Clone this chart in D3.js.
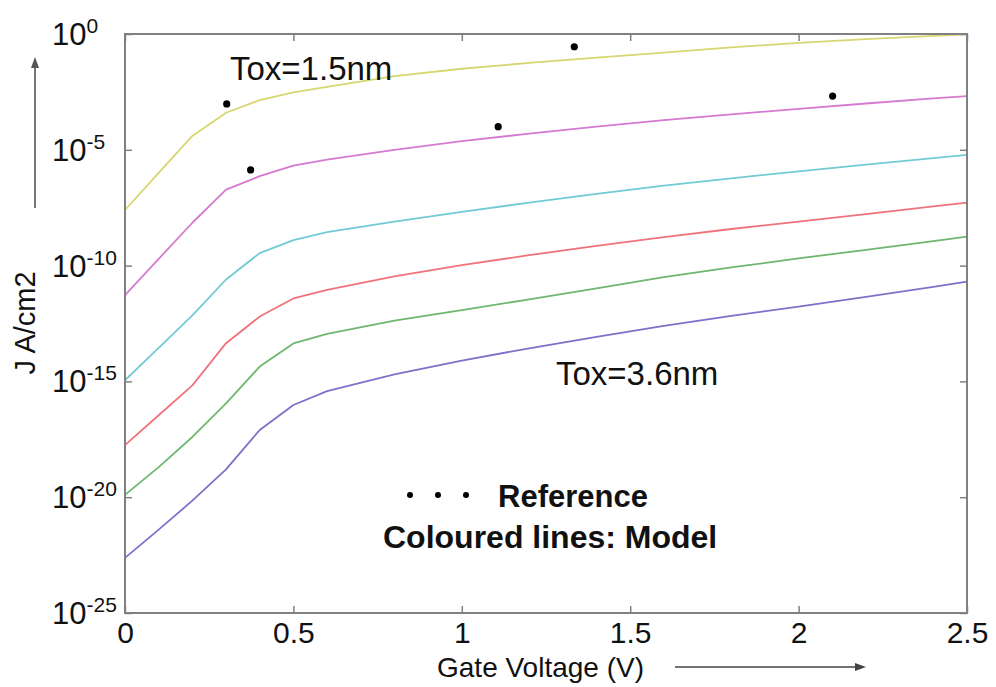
<!DOCTYPE html>
<html>
<head>
<meta charset="utf-8">
<script src="https://cdn.jsdelivr.net/npm/d3@7"></script>
<style>
  body { margin: 0; background: #fff; }
  text { font-family: Arial, "Liberation Sans", sans-serif; fill: #111; }
</style>
</head>
<body>
<script>
// Gate voltage samples (V)
const gateVoltage = [0, 0.1, 0.2, 0.3, 0.4, 0.5, 0.6, 0.8, 1.0, 1.2, 1.4, 1.6, 1.8, 2.0, 2.2, 2.4, 2.5];

// Model curves, log10 of J (A/cm2), thinnest oxide first
const logJYellow  = [-7.6, -6.0, -4.4, -3.4, -2.85, -2.52, -2.28, -1.82, -1.5, -1.25, -1.02, -0.8, -0.58, -0.38, -0.22, -0.08, -0.02];
const logJMagenta = [-11.27, -9.71, -8.15, -6.72, -6.14, -5.68, -5.42, -5.0, -4.63, -4.3, -4.0, -3.72, -3.47, -3.23, -3.0, -2.78, -2.68];
const logJCyan    = [-14.95, -13.55, -12.15, -10.6, -9.46, -8.9, -8.55, -8.1, -7.68, -7.28, -6.9, -6.55, -6.23, -5.93, -5.64, -5.36, -5.22];
const logJRed     = [-17.75, -16.46, -15.17, -13.35, -12.2, -11.42, -11.05, -10.47, -9.98, -9.55, -9.15, -8.77, -8.42, -8.1, -7.78, -7.44, -7.28];
const logJGreen   = [-19.9, -18.7, -17.4, -15.95, -14.36, -13.36, -12.95, -12.38, -11.92, -11.46, -10.98, -10.5, -10.08, -9.69, -9.32, -8.94, -8.75];
const logJBlue    = [-22.62, -21.4, -20.15, -18.8, -17.1, -16.02, -15.42, -14.7, -14.1, -13.57, -13.08, -12.6, -12.17, -11.77, -11.35, -10.92, -10.69];

const seriesColors = ["#d8d670", "#d57ad0", "#72cbd4", "#f0737c", "#6fb66f", "#7b72c9"];

// Reference points
const refVoltage = [0.302, 0.373, 1.108, 1.334, 2.101];
const refLogJ    = [-3.02, -5.87, -4.0, -0.55, -2.68];

// Axis ticks
const xTicks = [0, 0.5, 1, 1.5, 2, 2.5];
const yTickExps = [0, -5, -10, -15, -20, -25];

const width = 996, height = 687;
const plotLeft = 125, plotRight = 967, plotTop = 34, plotBottom = 613;
const axisColor = "#808080";

const svg = d3.select("body").append("svg")
    .attr("width", width)
    .attr("height", height);

let xScale = d3.scaleLinear().domain([0, 2.5]).range([plotLeft, plotRight]);
let yScale = d3.scaleLog().domain([1e-25, 1]).range([plotBottom, plotTop]);

const allSeries = [logJYellow, logJMagenta, logJCyan, logJRed, logJGreen, logJBlue];

let line = d3.line()
    .x((d, i) => xScale(gateVoltage[i]))
    .y(d => yScale(Math.pow(10, d)));

allSeries.forEach((s, k) => {
    svg.append("path")
        .datum(s)
        .attr("fill", "none")
        .attr("stroke", seriesColors[k])
        .attr("stroke-width", 1.8)
        .attr("stroke-linejoin", "round")
        .attr("d", line);
});

// frame
svg.append("rect")
    .attr("x", plotLeft).attr("y", plotTop)
    .attr("width", plotRight - plotLeft).attr("height", plotBottom - plotTop)
    .attr("fill", "none")
    .attr("stroke", axisColor)
    .attr("stroke-width", 2);

// inward ticks on all four sides
const tickLen = 7;
function styleAxis(g) {
    g.select(".domain").remove();
    g.selectAll(".tick line").attr("stroke", axisColor).attr("stroke-width", 1.5);
}
svg.append("g").attr("transform", `translate(0,${plotBottom})`)
    .call(d3.axisBottom(xScale).tickValues(xTicks).tickSizeInner(-tickLen).tickSizeOuter(0).tickPadding(9).tickFormat(d3.format("")))
    .call(styleAxis)
    .call(g => g.selectAll(".tick text")
        .attr("font-size", 30).attr("fill", "#111")
        .attr("font-family", "Arial, 'Liberation Sans', sans-serif"));
svg.append("g").attr("transform", `translate(0,${plotTop})`)
    .call(d3.axisTop(xScale).tickValues(xTicks).tickSizeInner(-tickLen).tickSizeOuter(0).tickFormat(""))
    .call(styleAxis);
svg.append("g").attr("transform", `translate(${plotLeft},0)`)
    .call(d3.axisLeft(yScale).tickValues(yTickExps.map(e => Math.pow(10, e))).tickSizeInner(-tickLen).tickSizeOuter(0).tickFormat(""))
    .call(styleAxis);
svg.append("g").attr("transform", `translate(${plotRight},0)`)
    .call(d3.axisRight(yScale).tickValues(yTickExps.map(e => Math.pow(10, e))).tickSizeInner(-tickLen).tickSizeOuter(0).tickFormat(""))
    .call(styleAxis);

// y tick labels as 10^n
yTickExps.forEach(e => {
    let y = yScale(Math.pow(10, e));
    let t = svg.append("text")
        .attr("x", 52)
        .attr("y", y + 11)
        .attr("font-size", 31);
    t.append("tspan").text("10");
    t.append("tspan")
        .attr("font-size", 21)
        .attr("dy", -12)
        .text(e === 0 ? "0" : "-" + Math.abs(e));
});

// reference dots
svg.selectAll(".ref")
    .data(refVoltage)
    .enter().append("circle")
    .attr("class", "ref")
    .attr("cx", d => xScale(d))
    .attr("cy", (d, i) => yScale(Math.pow(10, refLogJ[i])))
    .attr("r", 3.6)
    .attr("fill", "#000");

// annotations
svg.append("text").attr("x", 230).attr("y", 80).attr("font-size", 33).text("Tox=1.5nm");
svg.append("text").attr("x", 556).attr("y", 385).attr("font-size", 33).text("Tox=3.6nm");

// legend
[410, 438, 466].forEach(x => {
    svg.append("circle").attr("cx", x).attr("cy", 495).attr("r", 3).attr("fill", "#000");
});
svg.append("text").attr("x", 498).attr("y", 507).attr("font-size", 31).attr("font-weight", "bold").text("Reference");
svg.append("text").attr("x", 383).attr("y", 548).attr("font-size", 32).attr("font-weight", "bold").text("Coloured lines: Model");

// axis titles and arrows
svg.append("text").attr("x", 437).attr("y", 677).attr("font-size", 28).attr("fill", "#333").text("Gate Voltage (V)");
svg.append("text")
    .attr("transform", "translate(35,323) rotate(-90)")
    .attr("text-anchor", "middle")
    .attr("font-size", 29)
    .attr("fill", "#333")
    .text("J A/cm2");

svg.append("line").attr("x1", 675).attr("y1", 667).attr("x2", 856).attr("y2", 667)
    .attr("stroke", "#444").attr("stroke-width", 1.5);
svg.append("path").attr("d", "M866,667 L855,663 L855,671 Z").attr("fill", "#444");

svg.append("line").attr("x1", 35).attr("y1", 208).attr("x2", 35).attr("y2", 66)
    .attr("stroke", "#777").attr("stroke-width", 2);
svg.append("path").attr("d", "M35,57 L31,68 L39,68 Z").attr("fill", "#555");
</script>
</body>
</html>
